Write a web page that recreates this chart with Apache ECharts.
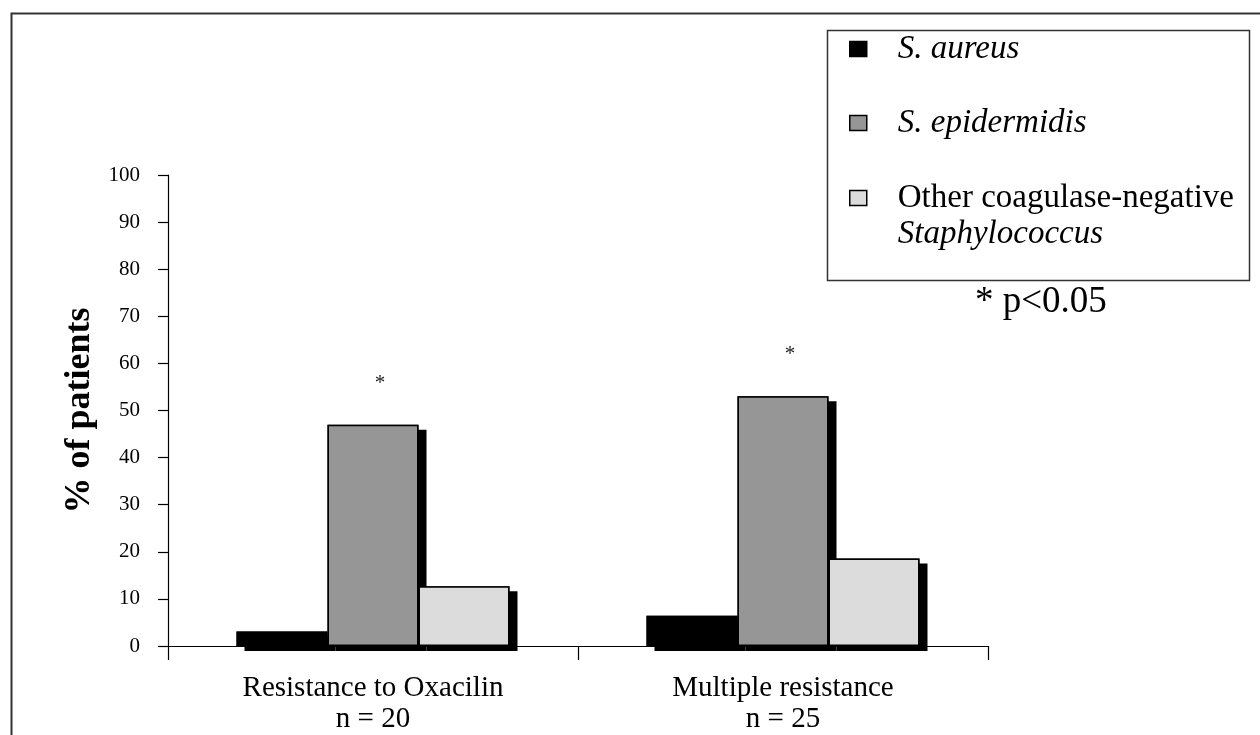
<!DOCTYPE html>
<html>
<head>
<meta charset="utf-8">
<script src="https://cdn.jsdelivr.net/npm/echarts@6/dist/echarts.min.js"></script>
<style>
  html, body { margin: 0; padding: 0; background: #fff; }
  #chart { width: 1260px; height: 735px; }
</style>
</head>
<body>
<div id="chart"></div>
<script>
// ---- data ----
const categoryNames = ['Resistance to Oxacilin', 'Multiple resistance'];
const sampleSizes = ['n = 20', 'n = 25'];
const seriesNames = ['S. aureus', 'S. epidermidis', 'Other coagulase-negative Staphylococcus'];
const aureusValues = [3.1, 6.4];
const epidermidisValues = [47, 53];
const otherCoNSValues = [12.7, 18.6];
const yTicks = [0, 10, 20, 30, 40, 50, 60, 70, 80, 90, 100];
const significanceMark = '*';
const significanceNote = '* p<0.05';

const categories = categoryNames.map((c, i) => c + '\n' + sampleSizes[i]);
const serif = '"Liberation Serif", "Times New Roman", serif';
const valueSets = [aureusValues, epidermidisValues, otherCoNSValues];
const fills = ['#000', '#969696', '#dcdcdc'];
const BW = 91;

// shadow layer (drawn first, on a hidden twin x axis with identical layout)
const shadowSeries = valueSets.map((vals, i) => ({
  name: seriesNames[i] + ' shadow',
  type: 'bar', xAxisIndex: 1, data: vals,
  barWidth: BW, barGap: '0%', z: 1, silent: true,
  itemStyle: { color: '#000', borderWidth: 0, shadowColor: '#000', shadowBlur: 0, shadowOffsetX: 8, shadowOffsetY: 5 }
}));

const mainSeries = valueSets.map((vals, i) => {
  const s = {
    name: seriesNames[i], type: 'bar', xAxisIndex: 0, data: vals,
    barWidth: BW, barGap: '0%', z: 3,
    itemStyle: { color: fills[i], borderColor: '#000', borderWidth: 1.5 }
  };
  if (i === 1) {
    s.label = {
      show: true, position: 'top', distance: 31, offset: [7, 0], formatter: significanceMark,
      color: '#222', fontFamily: serif, fontSize: 21
    };
  }
  return s;
});

const legendItemStyle = { borderColor: '#000', borderWidth: 1.5, shadowColor: 'rgba(0,0,0,0)', shadowBlur: 0, shadowOffsetX: 0, shadowOffsetY: 0 };

const chart = echarts.init(document.getElementById('chart'), null, { renderer: 'canvas' });
chart.setOption({
  backgroundColor: '#fff',
  animation: false,
  grid: { left: 168, right: 272, top: 175, bottom: 87 },
  xAxis: [
    {
      type: 'category',
      data: categories,
      axisLine: { lineStyle: { color: '#000', width: 1.2 } },
      axisTick: { show: true, length: 14, lineStyle: { color: '#000', width: 1.2 } },
      axisLabel: {
        color: '#000', fontFamily: serif, fontSize: 29, lineHeight: 31, margin: 27
      }
    },
    {
      type: 'category', data: categories, position: 'bottom', show: false
    }
  ],
  yAxis: {
    type: 'value',
    min: yTicks[0], max: yTicks[yTicks.length - 1], interval: 10,
    name: '% of patients',
    nameLocation: 'middle',
    nameRotate: 90,
    nameGap: 64,
    nameTextStyle: { color: '#000', fontFamily: serif, fontSize: 36, fontWeight: 'bold' },
    axisLine: { show: true, lineStyle: { color: '#000', width: 1.2 } },
    axisTick: { show: true, length: 10, lineStyle: { color: '#000', width: 1.2 } },
    splitLine: { show: false },
    axisLabel: { color: '#000', fontFamily: serif, fontSize: 21, margin: 28 }
  },
  legend: [
    {
      data: [seriesNames[0], seriesNames[1]],
      orient: 'vertical',
      left: 849, top: 31,
      padding: 0,
      itemWidth: 17, itemHeight: 15,
      itemGap: 38,
      icon: 'rect',
      itemStyle: legendItemStyle,
      textStyle: { color: '#000', fontFamily: serif, fontSize: 33, fontStyle: 'italic', lineHeight: 36, padding: [0, 0, 0, 26] },
      selectedMode: false
    },
    {
      data: [seriesNames[2]],
      orient: 'vertical',
      left: 849, top: 144,
      padding: 0,
      itemWidth: 17, itemHeight: 15,
      icon: 'rect',
      itemStyle: legendItemStyle,
      formatter: function () {
        return '{b| }\n{n|Other coagulase-negative}\n{i|Staphylococcus}';
      },
      textStyle: {
        color: '#000', fontFamily: serif, fontSize: 33, lineHeight: 36, padding: [0, 0, 0, 26],
        rich: {
          b: { fontSize: 33, lineHeight: 36, fontFamily: serif },
          n: { fontSize: 33, lineHeight: 36, fontFamily: serif, color: '#000' },
          i: { fontSize: 33, lineHeight: 36, fontFamily: serif, fontStyle: 'italic', color: '#000' }
        }
      },
      selectedMode: false
    }
  ],
  graphic: [
    { type: 'rect', left: 9, top: 11, shape: { width: 1400, height: 1000 }, style: { fill: 'none', stroke: '#333', lineWidth: 2 }, z: 100 },
    { type: 'rect', left: 825, top: 28, shape: { width: 422, height: 250 }, style: { fill: 'none', stroke: '#333', lineWidth: 1.5 }, z: 100 },
    { type: 'text', left: 975, top: 284, style: { text: significanceNote, font: '37px ' + serif, fill: '#000' }, z: 100 }
  ],
  series: shadowSeries.concat(mainSeries)
});
</script>
</body>
</html>
